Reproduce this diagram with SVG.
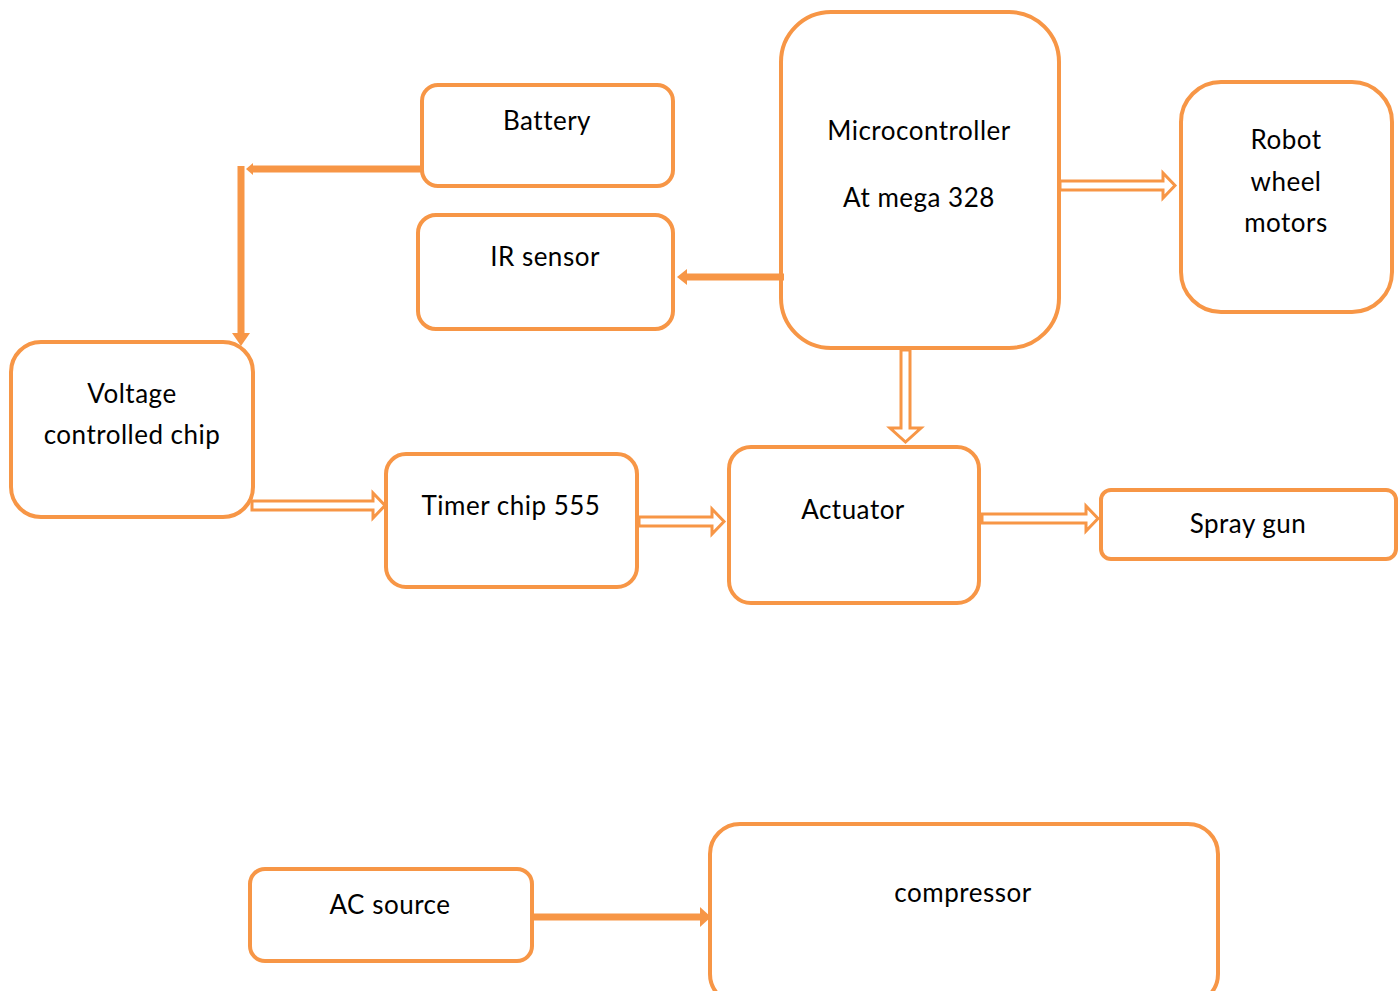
<svg xmlns="http://www.w3.org/2000/svg" width="1399" height="991" viewBox="0 0 1399 991">
<style>
.box{fill:#fff;stroke:#F79646;stroke-width:4}
.t{font-family:Lato,"Liberation Sans",sans-serif;font-size:26px;letter-spacing:0.5px;fill:#000;text-anchor:middle}
.thick{stroke:#F79646;stroke-width:7;fill:none}
.hollow{fill:#fff;stroke:#F79646;stroke-width:3;stroke-linejoin:miter}
.head{fill:#F79646}
</style>
<rect width="1399" height="991" fill="#fff"/>
<g id="battery"><rect class="box" x="422" y="85" width="251" height="101" rx="16"/><text class="t" x="547" y="130">Battery</text></g>
<g id="ir-sensor"><rect class="box" x="418" y="215" width="255" height="114" rx="18"/><text class="t" x="545" y="266">IR sensor</text></g>
<g id="microcontroller"><rect class="box" x="781" y="12" width="278" height="336" rx="50"/><text class="t" x="919" y="140">Microcontroller</text><text class="t" x="919" y="207">At mega 328</text></g>
<g id="robot-wheel-motors"><rect class="box" x="1181" y="82" width="211" height="230" rx="40"/><text class="t" x="1286" y="149">Robot</text><text class="t" x="1286" y="191">wheel</text><text class="t" x="1286" y="232">motors</text></g>
<g id="voltage-chip"><rect class="box" x="11" y="342" width="242" height="175" rx="30"/><text class="t" x="132" y="403">Voltage</text><text class="t" x="132" y="444">controlled chip</text></g>
<g id="timer-chip"><rect class="box" x="386" y="454" width="251" height="133" rx="20"/><text class="t" x="511" y="515">Timer chip 555</text></g>
<g id="actuator"><rect class="box" x="729" y="447" width="250" height="156" rx="22"/><text class="t" x="853" y="519">Actuator</text></g>
<g id="spray-gun"><rect class="box" x="1101" y="490" width="295" height="69" rx="10"/><text class="t" x="1248" y="533">Spray gun</text></g>
<g id="ac-source"><rect class="box" x="250" y="869" width="282" height="92" rx="15"/><text class="t" x="390" y="914">AC source</text></g>
<g id="compressor"><rect class="box" x="710" y="824" width="508" height="180" rx="30"/><text class="t" x="963" y="902">compressor</text></g>
<g id="connectors">
<line class="thick" x1="421" y1="169" x2="252" y2="169"/>
<polygon class="head" points="246,169 253,163 253,175"/>
<line class="thick" x1="241" y1="166" x2="241" y2="334" stroke-width="8"/>
<polygon class="head" points="241,346 232,333 250,333"/>
<line class="thick" x1="784" y1="277" x2="686" y2="277"/>
<polygon class="head" points="677,277 687,269 687,285"/>
<polygon class="hollow" points="1060,181 1163,181 1163,173 1175,185.5 1163,198 1163,190 1060,190"/>
<polygon class="hollow" points="901,350 910,350 910,428 921,428 905.5,442 890,428 901,428"/>
<polygon class="hollow" points="252,501 373,501 373,493 385,505.5 373,518 373,510 252,510"/>
<polygon class="hollow" points="639,517 712,517 712,509 724,521.5 712,534 712,526 639,526"/>
<polygon class="hollow" points="982,514 1086,514 1086,506 1098,518.5 1086,531 1086,523 982,523"/>
<line class="thick" x1="533" y1="917" x2="702" y2="917"/>
<polygon class="head" points="711,917 700,907 700,927"/>
</g>
</svg>
